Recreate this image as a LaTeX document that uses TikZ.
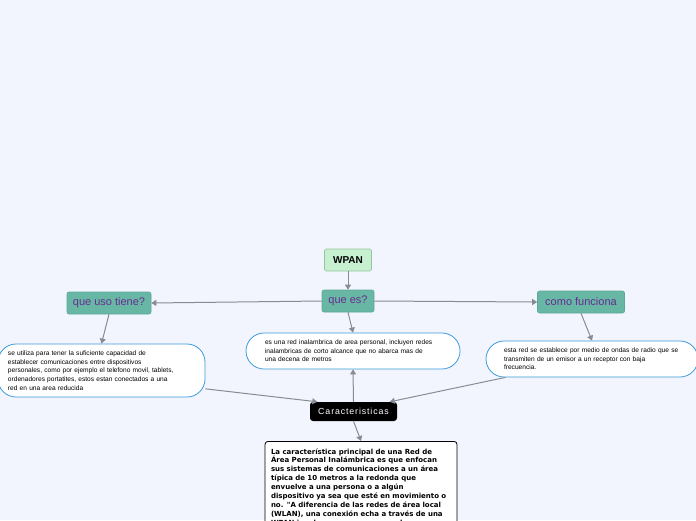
\documentclass[tikz,border=0pt]{standalone}
\usepackage{fontspec}
\setmainfont{Liberation Sans}
\newfontfamily\notefont{DejaVu Sans}
\newfontfamily\spacedfont[LetterSpace=10]{Liberation Sans}
\usetikzlibrary{arrows.meta}

\definecolor{bgblue}{RGB}{243,245,254}
\definecolor{teal}{RGB}{103,183,164}
\definecolor{tealline}{RGB}{92,168,150}
\definecolor{qpurple}{RGB}{104,44,146}
\definecolor{mintfill}{RGB}{198,240,208}
\definecolor{mintline}{RGB}{150,196,160}
\definecolor{ovalblue}{RGB}{58,155,220}
\definecolor{linkgray}{RGB}{135,140,148}

\tikzset{
    topic/.style={draw=tealline, fill=teal, rounded corners=2pt, line width=0.6pt,
        text=qpurple, font=\fontsize{11}{13}\selectfont, minimum height=22pt, inner sep=0pt},
    oval/.style={draw=ovalblue, fill=white, rounded corners=18pt, line width=0.8pt,
        align=left, font=\fontsize{6.6}{8.6}\selectfont, inner sep=0pt},
    link/.style={->, draw=linkgray, line width=1pt}
}

\begin{document}
\begin{tikzpicture}[x=1pt, y=-1pt, >={Triangle[length=5pt,width=6pt]}]
        % ==== BACKGROUND ====
        \fill[bgblue] (0,0) rectangle (696,520);
        \useasboundingbox (0,0) rectangle (696,520);
        \clip (0,0) rectangle (696,520);
        % ==== TOPICS ====
        \node[draw=mintline, fill=mintfill, rounded corners=2pt, line width=0.6pt,
            minimum width=47pt, minimum height=22pt, inner sep=0pt,
            font=\fontsize{10}{12}\selectfont\bfseries] (wpan) at (348,260) {WPAN};
        \node[topic, minimum width=52pt] (quees) at (348,301) {que es?};
        \node[topic, minimum width=84pt] (quouso) at (109,303) {que uso tiene?};
        \node[topic, minimum width=87pt] (como) at (581,302) {como funciona};
        % ==== TEXT BOXES ====
        \node[oval, minimum width=207pt, minimum height=53pt, text width=187pt] (usobox) at (101.5,370.5)
            {se utiliza para tener la suficiente capacidad de\\
             establecer comunicaciones entre dispositivos\\
             personales, como por ejemplo el telefono movil, tablets,\\
             ordenadores portatites, estos estan conectados a una\\
             red en una area reducida};
        \node[oval, minimum width=214pt, minimum height=36pt, text width=176pt] (esbox) at (353,351)
            {es una red inalambrica de area personal, incluyen redes\\
             inalambricas de corto alcance que no abarca mas de\\
             una decena de metros};
        \node[oval, minimum width=212pt, minimum height=36pt, text width=176pt] (comobox) at (592,359)
            {esta red se establece por medio de ondas de radio que se\\
             transmiten de un emisor a un receptor con baja\\
             frecuencia.};
        % ==== CARACTERISTICAS ====
        \node[fill=black, rounded corners=3pt, text=white, minimum width=87pt, minimum height=19pt,
            inner sep=0pt, font=\fontsize{8.8}{10}\spacedfont] (carac) at (353.5,411.5) {Caracteristicas};
        \node[draw=black, fill=white, rounded corners=3pt, line width=0.8pt, anchor=north,
            minimum width=192pt, text width=180pt, inner xsep=6pt, inner ysep=7pt, align=left,
            font=\fontsize{7}{8.9}\notefont\bfseries] (nota) at (361,441)
            {La característica principal de una Red de\\
             Área Personal Inalámbrica es que enfocan\\
             sus sistemas de comunicaciones a un área\\
             típica de 10 metros a la redonda que\\
             envuelve a una persona o a algún\\
             dispositivo ya sea que esté en movimiento o\\
             no. "A diferencia de las redes de área local\\
             (WLAN), una conexión echa a través de una\\
             WPAN involucra a muy poco o nula};
        % ==== CONNECTORS ====
        \draw[link] (wpan.south) -- (quees.north);
        \draw[link] (quees.west) -- (quouso.east);
        \draw[link] (quees.east) -- (como.west);
        \draw[link] (quees.south) -- (esbox.north);
        \draw[link] (quouso.south) -- (usobox.north);
        \draw[link] (como.south) -- (comobox.north);
        \draw[link] (usobox.-10) -- (carac.165);
        \draw[link] (comobox.192) -- (carac.15);
        \draw[link] (carac.north) -- (esbox.south);
        \draw[link] (carac.south) -- (nota.north);
\end{tikzpicture}
\end{document}
